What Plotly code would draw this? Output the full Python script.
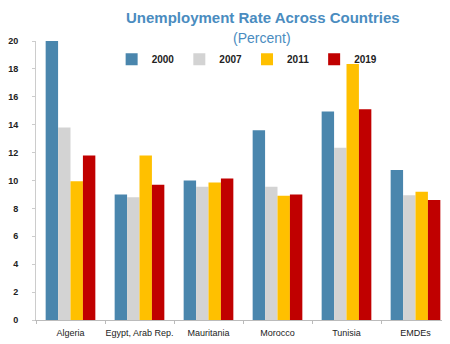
import plotly.graph_objects as go

countries = ["Algeria", "Egypt, Arab Rep.", "Mauritania", "Morocco", "Tunisia", "EMDEs"]
years = ["2000", "2007", "2011", "2019"]
v2000 = [20.0, 9.0, 10.0, 13.6, 14.95, 10.75]
v2007 = [13.8, 8.8, 9.55, 9.55, 12.35, 8.95]
v2011 = [9.95, 11.8, 9.85, 8.9, 18.35, 9.2]
v2019 = [11.8, 9.7, 10.15, 9.0, 15.1, 8.6]
series = [v2000, v2007, v2011, v2019]
colors = ["#4a86ad", "#d3d3d3", "#ffc000", "#c00000"]
yticks = [0, 2, 4, 6, 8, 10, 12, 14, 16, 18, 20]

fig = go.Figure()
for y, vals, c in zip(years, series, colors):
    fig.add_trace(go.Bar(x=countries, y=vals, name="<b>" + y + "</b>",
                         marker=dict(color=c, line=dict(width=0))))

fig.update_layout(
    width=442, height=336,
    margin=dict(l=28, r=0, t=33, b=24, autoexpand=False),
    paper_bgcolor="white", plot_bgcolor="white",
    barmode="group", bargap=0.28, bargroupgap=0,
    font=dict(family="Liberation Sans", color="#222222", size=9),
    legend=dict(orientation="h", x=0.51, xanchor="center", y=0.935, yanchor="middle",
                font=dict(size=10, color="#222222"), traceorder="normal",
                itemwidth=30, tracegroupgap=0, bgcolor="rgba(0,0,0,0)"),
    annotations=[
        dict(text="<b>Unemployment Rate Across Countries</b>", xref="paper", yref="paper",
             x=(263-36)/414, y=1, yshift=24, showarrow=False, xanchor="center", yanchor="middle",
             font=dict(size=15, color="#4a8cc0", family="Liberation Sans")),
        dict(text="(Percent)", xref="paper", yref="paper",
             x=(262-36)/414, y=1, yshift=3, showarrow=False, xanchor="center", yanchor="middle",
             font=dict(size=14, color="#4a8cc0", family="Liberation Sans")),
    ],
)
fig.update_yaxes(range=[0, 20], tickvals=yticks, showgrid=False, showline=True, linecolor="#cccccc",
                 ticks="outside", ticklen=3, tickcolor="#cccccc", zeroline=False, automargin=False,
                 ticklabelstandoff=12,
                 tickfont=dict(size=9, color="#222222", weight="bold"))
fig.update_xaxes(showline=True, linecolor="#bbbbbb", showgrid=False, ticks="outside",
                 tickson="boundaries", ticklen=3, tickcolor="#bbbbbb", automargin=False,
                 ticklabelstandoff=4, tickangle=0,
                 tickfont=dict(size=9, color="#222222"))
fig.write_html("out.html")
